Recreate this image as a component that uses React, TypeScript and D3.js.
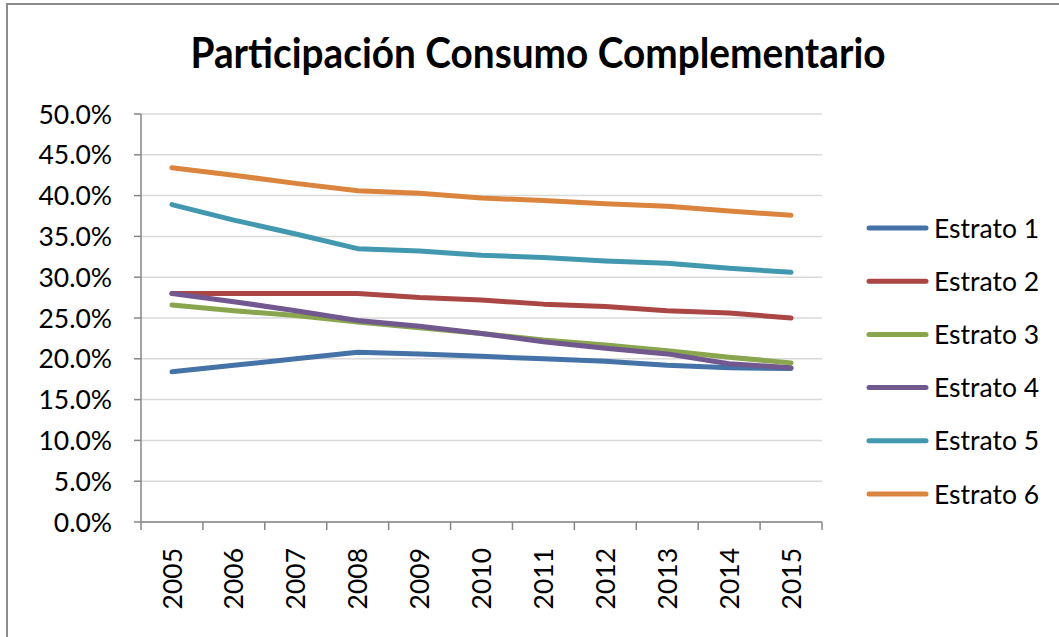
import React, { useEffect } from "react";
import * as d3 from "d3";

const years = ["2005","2006","2007","2008","2009","2010","2011","2012","2013","2014","2015"];
const estrato1 = [18.4, 19.2, 20.0, 20.8, 20.6, 20.3, 20.0, 19.7, 19.2, 18.9, 18.8];
const estrato2 = [28.0, 28.0, 28.0, 28.0, 27.5, 27.2, 26.7, 26.4, 25.9, 25.6, 25.0];
const estrato3 = [26.6, 25.9, 25.3, 24.5, 23.8, 23.1, 22.3, 21.7, 21.0, 20.2, 19.5];
const estrato4 = [28.0, 27.0, 25.9, 24.7, 24.0, 23.1, 22.1, 21.3, 20.6, 19.4, 18.9];
const estrato5 = [38.9, 37.0, 35.3, 33.5, 33.2, 32.7, 32.4, 32.0, 31.7, 31.1, 30.6];
const estrato6 = [43.4, 42.5, 41.5, 40.6, 40.3, 39.7, 39.4, 39.0, 38.7, 38.1, 37.6];
const seriesNames = ["Estrato 1","Estrato 2","Estrato 3","Estrato 4","Estrato 5","Estrato 6"];
const seriesValues = [estrato1, estrato2, estrato3, estrato4, estrato5, estrato6];
const colors = ["#4572A7","#AA4643","#89A54E","#71588F","#4198AF","#DB843D"];
const yTicks = [0, 5, 10, 15, 20, 25, 30, 35, 40, 45, 50];
const title = "Participación Consumo Complementario";

const W = 1059, H = 637;
const plot = { left: 141, right: 822, top: 114, bottom: 522 };
const font = "Lato, 'Open Sans', sans-serif";

export default function App() {
  useEffect(() => {
    document.body.style.margin = "0";
  }, []);
  const x = d3.scaleBand<string>().domain(years).range([plot.left, plot.right]);
  const y = d3.scaleLinear().domain([0, 50]).range([plot.bottom, plot.top]);
  const line = d3.line<number>()
    .x((_, i) => (x(years[i]) as number) + x.bandwidth() / 2)
    .y((v) => y(v));
  const boundaries = years.map((yr) => x(yr) as number).concat([plot.right]);
  const legendY = d3.scaleLinear().domain([0, 5]).range([228, 494]);

  return (
    <svg width={W} height={H} style={{ position: "absolute", left: 0, top: 0, background: "#fff" }} fontFamily={font}>
      <rect x={7} y={4} width={W + 20} height={H + 20} fill="#fff" stroke="#8c8c8c" strokeWidth={2} />
      <text x={538} y={68} textAnchor="middle" fontSize={42} fontWeight={700} fill="#000"
        textLength={695} lengthAdjust="spacingAndGlyphs">{title}</text>
      {yTicks.map((t) => (
        <line key={"g" + t} x1={plot.left} x2={plot.right} y1={y(t)} y2={y(t)} stroke="#d9d9d9" strokeWidth={1.5} />
      ))}
      <line x1={plot.left} x2={plot.left} y1={plot.top} y2={plot.bottom} stroke="#868686" strokeWidth={1.5} />
      <line x1={plot.left} x2={plot.right} y1={plot.bottom} y2={plot.bottom} stroke="#868686" strokeWidth={1.5} />
      {yTicks.map((t) => (
        <g key={"t" + t}>
          <line x1={plot.left - 7} x2={plot.left} y1={y(t)} y2={y(t)} stroke="#868686" strokeWidth={1.5} />
          <text x={112} y={y(t)} dy="0.36em" textAnchor="end" fontSize={26.5} fill="#000">{t.toFixed(1) + "%"}</text>
        </g>
      ))}
      {boundaries.map((b, i) => (
        <line key={"xb" + i} x1={b} x2={b} y1={plot.bottom} y2={plot.bottom + 8} stroke="#868686" strokeWidth={1.5} />
      ))}
      {years.map((yr) => {
        const cx = (x(yr) as number) + x.bandwidth() / 2;
        return (
          <text key={yr} transform={`translate(${cx},548) rotate(-90)`} textAnchor="end" dy="0.36em" fontSize={26.5} fill="#000">{yr}</text>
        );
      })}
      {seriesValues.map((vals, i) => (
        <path key={"s" + i} d={line(vals) || ""} fill="none" stroke={colors[i]} strokeWidth={5} strokeLinecap="round" strokeLinejoin="round" />
      ))}
      {seriesNames.map((n, i) => (
        <g key={n}>
          <line x1={869} x2={926} y1={legendY(i)} y2={legendY(i)} stroke={colors[i]} strokeWidth={5} strokeLinecap="round" />
          <text x={934} y={legendY(i)} dy="0.36em" fontSize={26.5} fill="#000">{n}</text>
        </g>
      ))}
    </svg>
  );
}
